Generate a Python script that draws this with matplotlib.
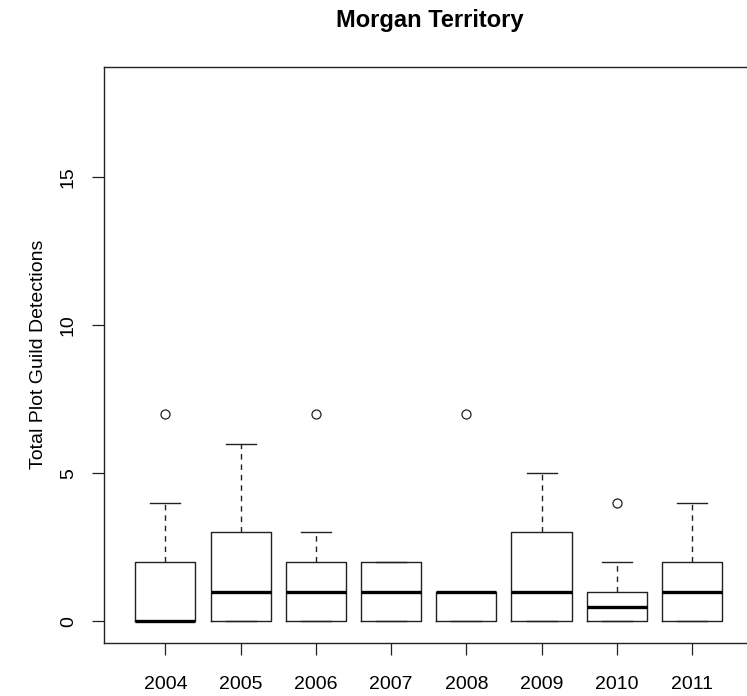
import matplotlib
matplotlib.use("Agg")
import matplotlib.pyplot as plt

years = ["2004", "2005", "2006", "2007", "2008", "2009", "2010", "2011"]
q1 = [0, 0, 0, 0, 0, 0, 0, 0]
medians = [0, 1, 1, 1, 1, 1, 0.5, 1]
q3 = [2, 3, 2, 2, 1, 3, 1, 2]
whisker_low = [0, 0, 0, 0, 0, 0, 0, 0]
whisker_high = [4, 6, 3, 2, 1, 5, 2, 4]
outliers = [[7], [], [7], [], [7], [], [4], []]

plt.rcParams['font.family'] = ['Liberation Sans', 'DejaVu Sans']

fig = plt.figure(figsize=(7.47, 6.96), dpi=100)
ax = fig.add_axes([103.7 / 747, 1 - 642.7 / 696, 650 / 747, (642.7 - 66.7) / 696])

stats = []
for i in range(len(years)):
    stats.append(dict(med=medians[i], q1=q1[i], q3=q3[i],
                      whislo=whisker_low[i], whishi=whisker_high[i],
                      fliers=outliers[i], label=years[i]))

positions = list(range(1, len(years) + 1))
ax.bxp(stats, positions=positions, widths=0.8, capwidths=0.4,
       showfliers=True,
       boxprops=dict(color='#222222', linewidth=1.0),
       medianprops=dict(color='black', linewidth=2.4, solid_capstyle='butt'),
       whiskerprops=dict(color='#222222', linewidth=1.0, linestyle=(0, (4, 3.5))),
       capprops=dict(color='#222222', linewidth=1.0),
       flierprops=dict(marker='o', markerfacecolor='none', markeredgecolor='#222222',
                       markersize=6.5, markeredgewidth=0.9, linestyle='none'))

ax.set_xlim(0.18, 8.82)
ax.set_ylim(-0.72, 18.72)
ax.set_yticks([0, 5, 10, 15])
ax.set_yticklabels(["0", "5", "10", "15"], rotation=90, va='center', ha='center')
ax.set_xticks(positions)
ax.set_xticklabels(years)

ax.tick_params(axis='both', labelsize=14, length=8.6, width=0.9, color='#222222')
ax.tick_params(axis='y', pad=16.8)
ax.tick_params(axis='x', pad=15.5)

for s in ax.spines.values():
    s.set_color('#222222')
    s.set_linewidth(1.0)
ax.spines['right'].set_visible(False)

fig.text(430 / 747, 1 - 20 / 696, "Morgan Territory", ha='center', va='center',
         fontsize=17, fontweight='bold')
fig.text(39 / 747, 1 - 354 / 696, "Total Plot Guild Detections", rotation=90,
         ha='center', va='center', fontsize=14)

fig.savefig("out.png", dpi=100)
